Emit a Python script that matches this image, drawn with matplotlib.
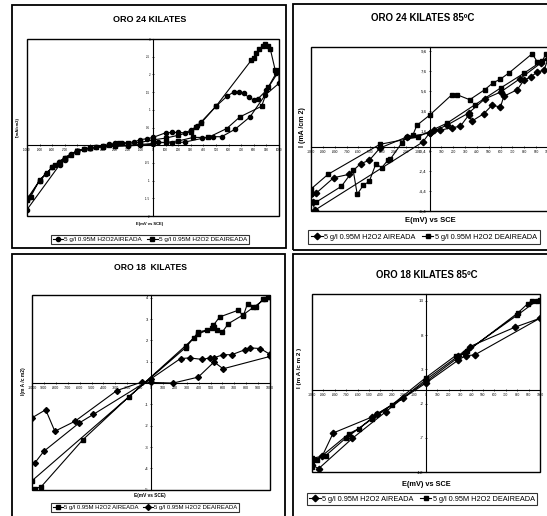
import matplotlib
matplotlib.use("Agg")
import matplotlib.pyplot as plt
from matplotlib.patches import Rectangle

W, H = 547, 516
plt.rcParams['font.family'] = ['Liberation Sans', 'DejaVu Sans']

# ---- ORO 24 KILATES ----
oro24_air_e = [-1000, -980, -900, -850, -800, -750, -700, -650, -600, -550, -500, -450, -400,
               -350, -300, -250, -150, -100, -50, 0, 100, 150, 200, 250, 300, 350, 380, 500,
               590, 640, 680, 720, 760, 800, 830, 900, 980, 1000, 1000, 889, 770, 651, 545,
               479, 386, 254, 150, 42, 0, -100, -200, -300, -400, -500, -600, -700, -740, -1000]
oro24_air_i = [-1.50, -1.45, -1.00, -0.82, -0.62, -0.48, -0.35, -0.25, -0.16, -0.11, -0.08, -0.05,
               -0.02, 0.02, 0.05, 0.06, 0.09, 0.16, 0.18, 0.22, 0.35, 0.36, 0.36, 0.35, 0.42, 0.55,
               0.65, 1.10, 1.39, 1.50, 1.50, 1.47, 1.35, 1.28, 1.30, 1.55, 2.05, 2.12, 1.75, 1.41,
               0.80, 0.45, 0.24, 0.24, 0.19, 0.09, 0.06, 0.09, 0.03, 0.00, -0.02, -0.03, -0.05,
               -0.08, -0.15, -0.42, -0.55, -1.82]
oro24_deair_e = [-1000, -970, -900, -840, -780, -740, -700, -650, -600, -550, -500, -450, -400,
                 -350, -300, -270, -200, -100, 0, 100, 200, 300, 340, 380, 500, 780, 800, 820,
                 840, 870, 890, 910, 930, 970, 1000, 915, 862, 690, 585, 439, 320, 200, 100, 0,
                 -100, -200, -300, -400, -500, -600, -700, -800, -900, -1000]
oro24_deair_i = [-1.55, -1.45, -0.98, -0.78, -0.55, -0.48, -0.38, -0.27, -0.18, -0.12, -0.09,
                 -0.06, -0.03, 0.00, 0.04, 0.06, 0.05, 0.08, 0.15, 0.20, 0.28, 0.38, 0.52, 0.62,
                 1.10, 2.40, 2.45, 2.60, 2.71, 2.80, 2.85, 2.80, 2.73, 2.12, 2.10, 1.63, 1.10,
                 0.80, 0.47, 0.22, 0.22, 0.12, 0.08, 0.05, 0.02, 0.00, -0.02, -0.04, -0.08,
                 -0.15, -0.35, -0.62, -1.00, -1.52]

# ---- ORO 24 KILATES 85ºC ----
oro24c_air_e = [-985, -969, -56, 0, 42, 85, 189, 260, 330, 359, 458, 528, 599, 627, 740, 797,
                853, 910, 966, 1000, 940, 760, 600, 466, 330, 150, 0, -192, -418, -508, -582,
                -678, -808, -955, -1000]
oro24c_air_i = [-5.45, -6.33, 0.50, 1.40, 1.67, 1.67, 1.93, 2.07, 3.17, 2.60, 3.33, 4.17, 4.00,
                5.07, 5.73, 6.67, 7.00, 7.50, 7.67, 8.80, 8.40, 6.80, 5.50, 4.80, 3.40, 2.20,
                1.40, 1.00, -0.10, -1.33, -1.67, -2.73, -3.07, -4.60, -4.67]
oro24c_deair_e = [-1000, -955, -743, -644, -610, -559, -508, -452, -404, -347, -330, -234, -192,
                  -141, -107, 0, 189, 232, 339, 466, 537, 596, 670, 867, 910, 950, 980, 1000,
                  800, 600, 380, 150, -100, -418, -856, -997, -1000]
oro24c_deair_i = [-5.45, -5.50, -3.93, -2.33, -4.73, -3.83, -3.43, -1.67, -2.07, -1.27, -1.20,
                  0.40, 1.00, 1.17, 2.17, 3.17, 5.23, 5.23, 4.73, 5.73, 6.43, 6.77, 7.40, 9.33,
                  8.50, 8.55, 9.27, 9.00, 7.40, 5.90, 4.20, 2.40, 1.00, 0.27, -2.73, -4.17, -4.67]

# ---- ORO 18 KILATES ----
oro18_air_e = [-1000, 290, 361, 397, 468, 510, 524, 577, 735, 775, 811, 882, 938, 980, 1000, 960,
               860, 769, 651, 600, 558, 530, 397, 290, -189, -575, -921, -977]
oro18_air_i = [-4.58, 1.66, 2.13, 2.40, 2.48, 2.56, 2.71, 3.10, 3.42, 3.14, 3.73, 3.55, 3.92,
               4.05, 4.05, 3.95, 3.55, 3.18, 2.79, 2.40, 2.48, 2.62, 2.30, 1.75, -0.66, -2.67,
               -4.85, -4.97]
oro18_deair_e = [-1000, -885, -808, -639, -287, -76, 0, 186, 397, 530, 606, 1000, 1000, 918, 834,
                 792, 679, 606, 530, 493, 431, 324, 248, 0, -485, -606, -901, -977]
oro18_deair_i = [-1.63, -1.25, -2.26, -1.79, -0.35, 0.05, 0.03, 0.00, 0.28, 0.99, 0.67, 1.25,
                 1.35, 1.62, 1.65, 1.57, 1.33, 1.33, 1.19, 1.18, 1.11, 1.18, 1.15, 0.20, -1.47,
                 -1.88, -3.20, -3.75]

# ---- ORO 18 KILATES 85ºC ----
oro18c_air_e = [-1000, -911, -814, -470, -432, -200, 0, 279, 347, 426, 1000, 779, 382, 279, 0,
                -353, -647, -941, -1000]
oro18c_air_i = [-10.4, -9.7, -6.3, -3.94, -3.55, -1.2, 1.0, 4.3, 5.0, 5.09, 10.46, 9.14, 6.3,
                4.9, 1.5, -3.2, -7.1, -11.5, -11.0]
oro18c_deair_e = [-1000, -960, -676, -588, -432, -300, 0, 260, 338, 803, 891, 926, 1000, 970, 800,
                  360, 0, -470, -700, -880, -1000]
oro18c_deair_i = [-11.2, -10.3, -6.4, -5.65, -3.55, -2.2, 1.8, 5.0, 5.33, 11.2, 12.56, 13.0,
                  13.1, 13.0, 10.9, 5.7, 1.2, -4.2, -7.0, -9.6, -10.0]

x_ticks = list(range(-1000, 1001, 100))

fig = plt.figure(figsize=(W / 100, H / 100), dpi=100)


def frac(x0, y0, x1, y1):
    return [x0 / W, 1 - y1 / H, (x1 - x0) / W, (y1 - y0) / H]


def frame(x0, y0, x1, y1):
    l, b, w, h = frac(x0, y0, x1, y1)
    fig.patches.append(Rectangle((l, b), w, h, transform=fig.transFigure,
                                 fill=False, lw=1.3, ec='black'))


def text(x, y, s, size, **kw):
    fig.text(x / W, 1 - y / H, s, fontsize=size, ha='center', va='center', **kw)


def panel(rect, series, ylim, yticks, ylabels, xsize, ysize, msize, legend_xy, lsize, lpad):
    ax = fig.add_axes(frac(*rect))
    handles = []
    for e, i, mk, lab in series:
        h, = ax.plot(e, i, color='black', lw=0.8, marker=mk, ms=msize, mfc='black',
                     mec='black', label=lab)
        handles.append(h)
    ax.set_xlim(-1000, 1000)
    ax.set_ylim(*ylim)
    ax.spines['left'].set_position(('data', 0))
    ax.spines['bottom'].set_position(('data', 0))
    ax.spines['top'].set_visible(False)
    ax.spines['right'].set_visible(False)
    for s in ('left', 'bottom'):
        ax.spines[s].set_linewidth(0.8)
    ax.add_patch(Rectangle((0, 0), 1, 1, transform=ax.transAxes, fill=False,
                           lw=1.0, ec='black', clip_on=False))
    ax.set_xticks(x_ticks)
    ax.set_xticklabels([str(v) for v in x_ticks])
    ax.set_yticks(yticks)
    ax.set_yticklabels(ylabels)
    ax.tick_params(direction='inout', length=2, width=0.5, pad=1)
    ax.tick_params(axis='x', labelsize=xsize)
    ax.tick_params(axis='y', labelsize=ysize)
    leg = fig.legend(handles, [s[3] for s in series], loc='center',
                     bbox_to_anchor=(legend_xy[0] / W, 1 - legend_xy[1] / H), ncol=2,
                     fontsize=lsize, frameon=True, fancybox=False, edgecolor='black',
                     handlelength=1.6, handletextpad=0.2, columnspacing=0.8,
                     borderpad=lpad, borderaxespad=0)
    leg.get_frame().set_linewidth(0.8)
    return ax


# outer chart borders
frame(12, 5, 286, 248)
frame(293, 4, 560, 250)
frame(12, 254, 285, 530)
frame(293, 254, 560, 530)

# ORO 24 KILATES
y1 = [-2, -1.5, -1, -0.5, 0, 0.5, 1, 1.5, 2, 2.5, 3]
panel((27, 39, 279, 216),
      [(oro24_air_e, oro24_air_i, 'o', '5 g/l 0.95M H2O2AIREADA'),
       (oro24_deair_e, oro24_deair_i, 's', '5 g/l 0.95M H2O2 DEAIREADA')],
      (-2, 3), y1, ['' if v == 0 else f'{v:g}' for v in y1], 2.2, 2.2, 3.0,
      (150, 239.5), 4.6, 0.25)
text(150, 20, 'ORO 24 KILATES', 6.5, weight='bold')
text(18, 127, 'I(mA/cm2)', 3, weight='bold', rotation=90)
text(150, 224, 'E(mV vs SCE)', 3, weight='bold')

# ORO 24 KILATES 85ºC
y2 = [-6.4, -4.4, -2.4, -0.4, 1.6, 3.6, 5.6, 7.6, 9.6]
panel((311, 47, 548, 211),
      [(oro24c_air_e, oro24c_air_i, 'D', '5 g/l 0.95M H2O2 AIREADA'),
       (oro24c_deair_e, oro24c_deair_i, 's', '5 g/l 0.95M H2O2 DEAIREADA')],
      (-6.4, 10), y2, [f'{v:.1f}'.replace('.', ',') for v in y2], 2.3, 3.2, 3.3,
      (424, 237), 5.3, 0.45)
text(423, 18, 'ORO 24 KILATES 85ºC', 7, weight='bold')
text(302, 127, 'I (mA /cm 2)', 5, weight='bold', rotation=90)
text(430, 221, 'E(mV) vs SCE', 5.5, weight='bold')

# ORO 18 KILATES
y3 = [-5, -4, -3, -2, -1, 0, 1, 2, 3, 4]
panel((32, 295, 270, 489.7),
      [(oro18_air_e, oro18_air_i, 's', '5 g/l 0.95M H2O2 AIREADA'),
       (oro18_deair_e, oro18_deair_i, 'D', '5 g/l 0.95M H2O2 DEAIREADA')],
      (-5, 4.13), y3, ['' if v == 0 else str(v) for v in y3], 2.6, 3.0, 3.0,
      (145, 507.5), 4.3, 0.3)
text(150, 267, 'ORO 18  KILATES', 6.2, weight='bold')
text(23, 381, 'I(m A /c m2)', 3.5, weight='bold', rotation=90)
text(150, 496, 'E(mV vs SCE)', 3.4, weight='bold')

# ORO 18 KILATES 85ºC
y4 = [-12, -7, -2, 3, 8, 13]
panel((312, 294, 540, 472),
      [(oro18c_air_e, oro18c_air_i, 'D', '5 g/l 0.95M H2O2 AIREADA'),
       (oro18c_deair_e, oro18c_deair_i, 's', '5 g/l 0.95M H2O2 DEAIREADA')],
      (-12, 14), y4, [str(v) for v in y4], 2.3, 3.2, 3.3,
      (422, 499), 5.3, 0.35)
text(427, 275, 'ORO 18 KILATES 85ºC', 6.9, weight='bold')
text(300, 368, 'I (m A /c m 2 )', 4.5, weight='bold', rotation=90)
text(426, 484, 'E(mV) vs SCE', 5.3, weight='bold')

fig.savefig('out.png', dpi=100, facecolor='white')
